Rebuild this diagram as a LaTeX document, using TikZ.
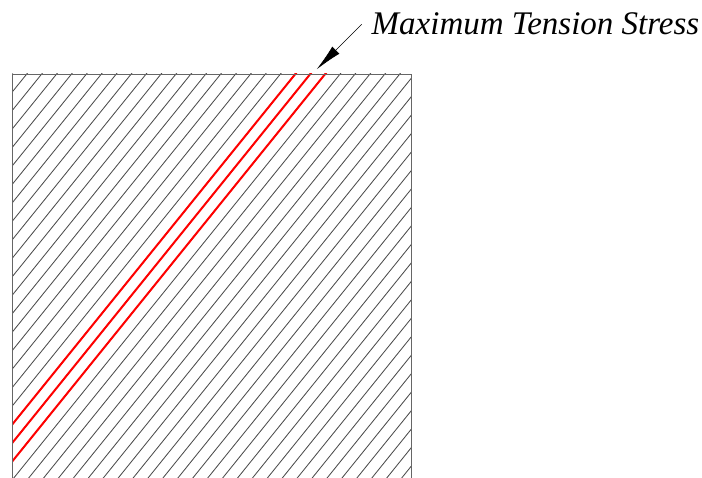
\documentclass[tikz,border=0pt]{standalone}
\usepackage{fontspec}
\setmainfont{Liberation Serif}
\usetikzlibrary{arrows.meta}
\begin{document}
\begin{tikzpicture}[x=1pt,y=1pt,
  hatch/.style={draw=black!70, line width=0.85pt},
  redline/.style={draw=red, line width=2pt},
  border/.style={draw=black!60, line width=0.9pt},
  lbl/.style={font=\fontsize{33}{36}\selectfont\itshape, anchor=base west, inner sep=0pt},
  pointer/.style={draw=black, line width=0.6pt, -{Latex[length=27pt,width=10pt]}}]
\useasboundingbox (0,0) rectangle (702,477);
\begin{scope}
  \clip (12.3,-10) rectangle (411.7,403);
  \foreach \k in {-2,...,47} {
    \pgfmathsetmacro\xt{41.7+14.92*\k}
    \draw[hatch] (\xt+100,526.8) -- (\xt-500,-216);
  }
  \foreach \k in {17,18,19} {
    \pgfmathsetmacro\xt{41.7+14.92*\k}
    \draw[redline] (\xt+100,526.8) -- (\xt-500,-216);
  }
\end{scope}
\draw[border] (12.3,-10) -- (12.3,403) -- (411.7,403) -- (411.7,-10);
\node[lbl] (label) at (371.5,442) {Maximum Tension Stress};
\coordinate (tail) at (361.7,452.7);
\coordinate (tip) at (316.7,407.7);
\draw[pointer] (tail) -- (tip);
\end{tikzpicture}
\end{document}
